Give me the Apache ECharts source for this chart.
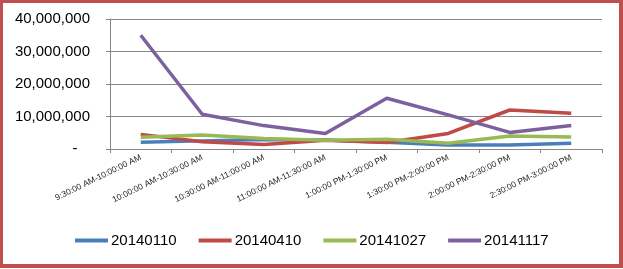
<!DOCTYPE html>
<html><head><meta charset="utf-8">
<script src="https://cdn.jsdelivr.net/npm/echarts@6/dist/echarts.min.js"></script>
<style>html,body{margin:0;padding:0;background:#fff}#c{width:623px;height:269px}</style>
</head><body><div id="c"></div>
<script>
const categories = ["9:30:00 AM-10:00:00 AM","10:00:00 AM-10:30:00 AM","10:30:00 AM-11:00:00 AM","11:00:00 AM-11:30:00 AM","1:00:00 PM-1:30:00 PM","1:30:00 PM-2:00:00 PM","2:00:00 PM-2:30:00 PM","2:30:00 PM-3:00:00 PM"];
const seriesNames = ["20140110","20140410","20141027","20141117"];
const s20140110 = [2100000, 2500000, 2900000, 2800000, 2100000, 1200000, 1200000, 1800000];
const s20140410 = [4500000, 2200000, 1400000, 2700000, 2000000, 4800000, 12000000, 11000000];
const s20141027 = [3600000, 4300000, 3200000, 2700000, 3000000, 1800000, 4000000, 3700000];
const s20141117 = [35000000, 10700000, 7200000, 4800000, 15600000, 10500000, 5100000, 7200000];
const colors = ["#4A7EBB","#BE4B48","#98B954","#7D60A0"];
const values = [s20140110, s20140410, s20141027, s20141117];

const chart = echarts.init(document.getElementById('c'), null, {renderer:'canvas'});
chart.setOption({
  animation:false,
  color: colors,
  grid:{left:110, right:21, top:19, bottom:120, containLabel:false},
  graphic:[{type:'rect', shape:{x:1,y:1,width:620,height:265}, style:{fill:'none', stroke:'#C0504D', lineWidth:4}, z:100}],
  legend:{
    data: seriesNames, bottom: 16, left: 70, itemWidth:33, itemHeight:4, itemGap:22, icon:'rect',
    textStyle:{fontFamily:'Liberation Sans', fontSize:15, color:'#000', padding:[0,0,0,-2]}
  },
  xAxis:{
    type:'category', data: categories, boundaryGap:true,
    axisLine:{lineStyle:{color:'#868686', width:1}},
    axisTick:{show:true, length:4, lineStyle:{color:'#868686'}, alignWithLabel:false},
    axisLabel:{rotate:26, fontSize:8.5, fontFamily:'Liberation Sans', color:'#222', margin:8, interval:0}
  },
  yAxis:{
    type:'value', min:0, max:40000000, interval:10000000,
    axisLine:{show:true, lineStyle:{color:'#868686'}},
    axisTick:{show:true, length:4, lineStyle:{color:'#868686'}},
    splitLine:{lineStyle:{color:'#868686', width:1}},
    axisLabel:{fontSize:15, fontFamily:'Liberation Sans', color:'#000', margin:20,
      formatter: v => v === 0 ? '-   ' : v.toLocaleString('en-US')}
  },
  series: seriesNames.map((n,i)=>({
    name:n, type:'line', data: values[i], showSymbol:false, symbol:'none',
    lineStyle:{width:3.5, color: colors[i]}, itemStyle:{color: colors[i]}
  }))
});
</script></body></html>
